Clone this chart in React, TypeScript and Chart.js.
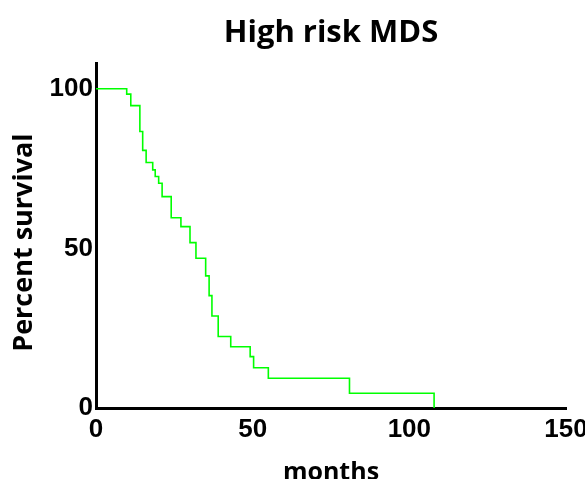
import React, { useEffect, useRef } from "react";
import { Chart, registerables } from "chart.js";

Chart.register(...registerables);

const months: number[] = [0, 9.8, 11.1, 14.0, 14.9, 16.0, 18.1, 18.9, 20.0, 21.1, 24.0, 27.1, 30.0, 31.9, 35.0, 36.1, 37.0, 39.0, 43.0, 49.2, 50.3, 55.0, 80.9, 107.9];
const survival: number[] = [100, 98.3, 94.7, 86.6, 80.7, 76.9, 74.6, 72.5, 70.4, 66.2, 59.6, 56.8, 51.8, 46.9, 41.4, 35.2, 28.8, 22.4, 19.2, 16.1, 12.6, 9.3, 4.6, 0];
const xTicks: number[] = [0, 50, 100, 150];
const yTicks: number[] = [0, 50, 100];

const TITLE = "High risk MDS";
const X_TITLE = "months";
const Y_TITLE = "Percent survival";

const HUMAN = '"Open Sans", "Noto Sans", sans-serif';
const TICKF = '"Liberation Sans", Arial, sans-serif';

export default function App() {
  const ref = useRef<HTMLCanvasElement | null>(null);
  useEffect(() => {
    if (!ref.current) return;
    const chart = new Chart(ref.current, {
      type: "line",
      data: {
        datasets: [
          {
            data: months.map((m, i) => ({ x: m, y: survival[i] })),
            borderColor: "#00ff00",
            borderWidth: 1.6,
            pointRadius: 0,
            stepped: "before",
            fill: false,
          },
        ],
      },
      options: {
        animation: false,
        responsive: false,
        devicePixelRatio: 1,
        layout: { padding: { left: 0, top: 0, bottom: 0, right: 19 } },
        plugins: {
          legend: { display: false },
          tooltip: { enabled: false },
          title: {
            display: true,
            fullSize: false,
            text: TITLE,
            color: "#000",
            font: { family: HUMAN, size: 31, weight: "bold", lineHeight: 1.2 },
            padding: { top: 15, bottom: 11 },
          },
        },
        scales: {
          x: {
            type: "linear",
            min: 0,
            max: 150,
            afterBuildTicks: (s: any) => {
              s.ticks = xTicks.map((v) => ({ value: v }));
            },
            afterFit: (s: any) => {
              s.height = 71;
              s.paddingLeft = 0;
              s.paddingRight = 0;
            },
            grid: { display: false, drawTicks: false },
            border: { display: true, color: "#000", width: 3 },
            ticks: {
              color: "#000",
              padding: 9,
              maxRotation: 0,
              font: { family: TICKF, size: 26, weight: "bold", lineHeight: 1 },
            },
            title: {
              display: true,
              text: X_TITLE,
              color: "#000",
              font: { family: HUMAN, size: 25, weight: "bold", lineHeight: 1 },
              padding: { top: 0, bottom: -6 },
            },
          },
          y: {
            type: "linear",
            min: 0,
            max: 108,
            afterBuildTicks: (s: any) => {
              s.ticks = yTicks.map((v) => ({ value: v }));
            },
            afterFit: (s: any) => {
              s.width = 96;
              s.paddingTop = 0;
              s.paddingBottom = 0;
            },
            grid: { display: false, drawTicks: false },
            border: { display: true, color: "#000", width: 3 },
            ticks: {
              color: "#000",
              padding: 3,
              font: { family: TICKF, size: 26, weight: "bold", lineHeight: 1 },
            },
            title: {
              display: true,
              text: Y_TITLE + "  ",
              color: "#000",
              font: { family: HUMAN, size: 27, weight: "bold", lineHeight: 1.2 },
              padding: { top: 8, bottom: 0 },
            },
          },
        },
      },
    });
    return () => chart.destroy();
  }, []);
  return (
    <div style={{ position: "fixed", left: 0, top: 0, width: 585, height: 479, background: "#fff" }}>
      <canvas ref={ref} width={585} height={479} />
    </div>
  );
}
